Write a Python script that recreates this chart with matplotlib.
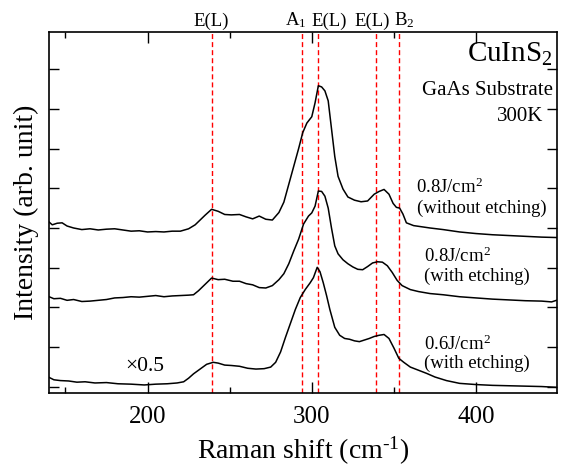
import matplotlib
matplotlib.use("Agg")
import matplotlib.pyplot as plt

plt.rcParams['font.family'] = ['Liberation Serif', 'DejaVu Serif']
plt.rcParams['mathtext.fontset'] = 'custom'
plt.rcParams['mathtext.rm'] = 'Liberation Serif'
plt.rcParams['mathtext.it'] = 'Liberation Serif:italic'

# 0.8 J/cm2 without etching (top trace)
x_top = [139.5, 142, 145, 148, 151, 155, 160, 165, 170, 175, 180, 185, 190, 195,
         200, 205, 210, 215, 220, 225, 229, 232, 235, 239, 243, 247, 251, 256,
         260, 264, 268, 272, 276, 280, 283, 286, 289, 292, 294.5, 297, 300, 302,
         304, 306, 308, 310, 312, 314, 316, 319, 322, 326, 330, 334, 338, 341,
         344, 347, 349.5, 351.5, 353.5, 355.5, 357.6, 362, 367, 372, 380, 390,
         400, 410, 420, 430, 440, 449]
y_top = [4.17, 4.08, 4.12, 4.13, 4.05, 4.00, 3.96, 3.98, 3.95, 3.97, 3.98, 3.95, 3.92, 3.93,
         3.90, 3.91, 3.90, 3.92, 3.92, 3.98, 4.08, 4.20, 4.32, 4.47, 4.42, 4.34, 4.33, 4.34,
         4.28, 4.23, 4.30, 4.22, 4.20, 4.39, 4.65, 5.10, 5.55, 6.00, 6.40, 6.64, 6.80, 7.15,
         7.58, 7.55, 7.45, 7.20, 6.50, 5.80, 5.30, 4.98, 4.78, 4.70, 4.66, 4.68, 4.85, 4.92,
         4.97, 4.85, 4.62, 4.52, 4.50, 4.35, 4.13, 4.06, 4.03, 4.00, 3.96, 3.90,
         3.86, 3.83, 3.81, 3.79, 3.77, 3.76]

# 0.8 J/cm2 with etching (middle trace)
x_mid = [139.5, 143, 147, 151, 155, 160, 165, 170, 175, 180, 185, 190, 195, 200,
         205, 210, 215, 220, 225, 228, 231, 235, 239, 243, 247, 252, 256, 260, 264,
         268, 272, 276, 280, 283, 286, 289, 292, 295, 298, 300, 302, 304, 306, 308,
         310, 312, 314, 316, 319, 322, 325, 328, 331, 334, 337, 340, 343, 346, 349,
         352, 355, 360, 365, 372, 380, 390, 400, 410, 420, 430, 440, 446, 449]
y_mid = [2.28, 2.22, 2.23, 2.18, 2.20, 2.15, 2.16, 2.18, 2.20, 2.24, 2.25, 2.27, 2.26, 2.28,
         2.30, 2.27, 2.29, 2.30, 2.31, 2.32, 2.42, 2.58, 2.74, 2.70, 2.71, 2.66, 2.66, 2.60, 2.57,
         2.50, 2.49, 2.55, 2.70, 2.85, 3.10, 3.42, 3.72, 4.10, 4.30, 4.38, 4.55, 4.93, 4.92, 4.80,
         4.50, 4.00, 3.55, 3.35, 3.20, 3.10, 3.02, 2.96, 2.95, 3.03, 3.12, 3.15, 3.14, 3.05, 2.88,
         2.68, 2.55, 2.45, 2.40, 2.35, 2.32, 2.27, 2.24, 2.21, 2.19, 2.17, 2.16, 2.14, 2.18]

# 0.6 J/cm2 with etching (bottom trace, x0.5)
x_bot = [139.6, 143, 147, 152, 157, 162, 168, 175, 182, 190, 198, 205, 212, 218,
         222, 225, 228, 232, 236, 240, 243, 247, 251, 256, 261, 266, 271, 275, 278,
         281, 284, 287, 290, 293, 296, 299, 301, 303.3, 305, 307, 309, 311, 314, 317,
         320, 323, 326, 329, 332, 335, 338, 341, 344, 347, 350, 353, 356, 360, 365,
         370, 375, 382, 390, 400, 410, 420, 430, 440, 449]
y_bot = [0.25, 0.18, 0.16, 0.15, 0.12, 0.13, 0.10, 0.11, 0.08, 0.07, 0.05, 0.07, 0.08, 0.10,
         0.13, 0.22, 0.33, 0.45, 0.57, 0.62, 0.60, 0.55, 0.54, 0.52, 0.47, 0.45, 0.46, 0.50, 0.62,
         0.88, 1.25, 1.60, 1.95, 2.25, 2.45, 2.62, 2.75, 3.01, 2.90, 2.62, 2.30, 1.95, 1.50, 1.30,
         1.22, 1.20, 1.16, 1.14, 1.18, 1.22, 1.27, 1.30, 1.32, 1.22, 0.98, 0.72, 0.62, 0.50, 0.42,
         0.34, 0.25, 0.16, 0.09, 0.06, 0.04, 0.03, 0.02, 0.01, -0.01]

# phonon modes
mode_pos = [239, 294, 304, 339, 353]
mode_labels = ['E(L)', 'A$_1$', 'E(L)', 'E(L)', 'B$_2$']
mode_label_x = [239, 290, 310.5, 337, 356.5]

fig = plt.figure(figsize=(5.61, 4.69), dpi=100)
ax = fig.add_axes([0.0873, 0.1614, 0.9047, 0.7702])

for xm in mode_pos:
    ax.axvline(xm, color='red', lw=1.0, ls=(0, (3.6, 2.2)), zorder=1)

ax.plot(x_top, y_top, color='black', lw=1.1, zorder=2)
ax.plot(x_mid, y_mid, color='black', lw=1.1, zorder=2)
ax.plot(x_bot, y_bot, color='black', lw=1.1, zorder=2)

ax.set_xlim(140, 449)
ax.set_ylim(-0.16, 8.93)
ax.set_xticks([200, 300, 400])
ax.set_xticks([150, 250, 350], minor=True)
ax.set_yticks(range(0, 9))
ax.set_yticklabels([])
ax.tick_params(which='both', direction='in', top=True, right=True, width=1.0)
ax.tick_params(axis='x', which='major', length=8, labelsize=18, pad=9)
ax.tick_params(axis='x', which='minor', length=4.5)
ax.tick_params(axis='y', which='major', length=7)
for s in ax.spines.values():
    s.set_linewidth(1.2)

ax.set_xlabel('Raman shift (cm$^{\\text{-1}}$)', fontsize=20, labelpad=5)
ax.set_ylabel('Intensity (arb. unit)', fontsize=20, labelpad=4)

for lx, lab in zip(mode_label_x, mode_labels):
    ax.text(lx, 8.98, lab, ha='center', va='bottom', fontsize=13.5)

ax.text(446.8, 8.17, 'CuInS$_2$', ha='right', va='baseline', fontsize=21)
ax.text(446.8, 7.35, 'GaAs Substrate', ha='right', va='baseline', fontsize=15)
ax.text(440.7, 6.70, '300K', ha='right', va='baseline', fontsize=15)

ax.text(363.7, 4.87, '0.8J/cm$^2$', ha='left', va='baseline', fontsize=13.5)
ax.text(364.0, 4.39, '(without etching)', ha='left', va='baseline', fontsize=13.5)
ax.text(368.1, 3.14, '0.8J/cm$^2$', ha='left', va='baseline', fontsize=13.5)
ax.text(368.1, 2.66, '(with etching)', ha='left', va='baseline', fontsize=13.5)
ax.text(368.1, 0.93, '0.6J/cm$^2$', ha='left', va='baseline', fontsize=13.5)
ax.text(368.1, 0.48, '(with etching)', ha='left', va='baseline', fontsize=13.5)
ax.text(186.2, 0.39, '×0.5', ha='left', va='baseline', fontsize=15.5)

fig.savefig('out.png', dpi=100)
